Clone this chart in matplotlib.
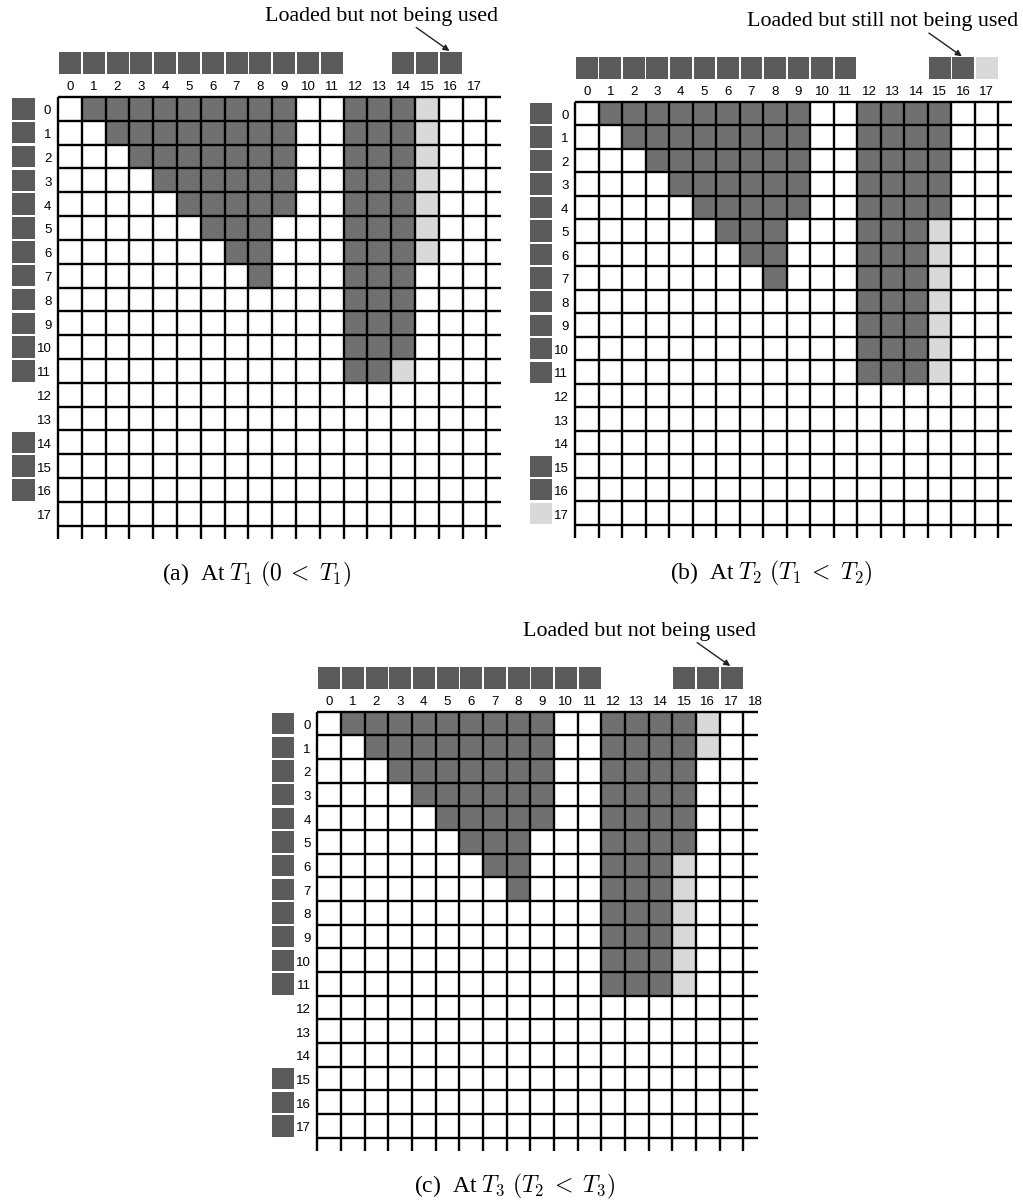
import matplotlib
matplotlib.use('Agg')
import matplotlib.pyplot as plt
from matplotlib.patches import Rectangle

plt.rcParams['mathtext.fontset'] = 'cm'

# '#' = in use (dark), '+' = loaded but idle (light), '.' = empty
grid_a = [
    ".#########..###+..",
    "..########..###+..",
    "...#######..###+..",
    "....######..###+..",
    ".....#####..###+..",
    "......###...###+..",
    ".......##...###+..",
    "........#...###...",
    "............###...",
    "............###...",
    "............###...",
    "............##+...",
    "..................",
    "..................",
    "..................",
    "..................",
    "..................",
    "..................",
]
grid_b = [
    ".#########..####..",
    "..########..####..",
    "...#######..####..",
    "....######..####..",
    ".....#####..####..",
    "......###...###+..",
    ".......##...###+..",
    "........#...###+..",
    "............###+..",
    "............###+..",
    "............###+..",
    "............###+..",
    "..................",
    "..................",
    "..................",
    "..................",
    "..................",
    "..................",
]
grid_c = [
    ".#########..####+.",
    "..########..####+.",
    "...#######..####..",
    "....######..####..",
    ".....#####..####..",
    "......###...####..",
    ".......##...###+..",
    "........#...###+..",
    "............###+..",
    "............###+..",
    "............###+..",
    "............###+..",
    "..................",
    "..................",
    "..................",
    "..................",
    "..................",
    "..................",
]

# tiles loaded along the top (columns) and the left (rows)
top_a = "############..###."
top_b = "############...##+"
top_c = "############...###"
left_a = "############..###."
left_b = "############...##+"
left_c = "############...###"

col_labels_a = [str(i) for i in range(18)]
col_labels_b = [str(i) for i in range(18)]
col_labels_c = [str(i) for i in range(19)]
row_labels = [str(i) for i in range(18)]

notes = ["Loaded but not being used", "Loaded but still not being used",
         "Loaded but not being used"]
note_targets = [16, 16, 17]
captions = [r"(a)  At $T_1\ (0\;<\;T_1)$", r"(b)  At $T_2\ (T_1\;<\;T_2)$",
            r"(c)  At $T_3\ (T_2\;<\;T_3)$"]

CELL = {'#': '#707070', '+': '#d9d9d9'}
TILE = {'#': '#5a5a5a', '+': '#d9d9d9'}

W, H = 1023, 1202
fig = plt.figure(figsize=(W / 100, H / 100), dpi=100)


def draw_panel(box, grid, top, left, col_labels, note, note_x, target, caption):
    l, t, w, h = box
    ax = fig.add_axes([l / W, 1 - (t + h) / H, w / W, h / H])
    n = len(grid)
    ax.set_xlim(0, n)
    ax.set_ylim(n, 0)
    ax.axis('off')

    for r, row in enumerate(grid):
        for c, ch in enumerate(row):
            if ch in CELL:
                ax.add_patch(Rectangle((c, r), 1, 1, fc=CELL[ch], ec='none'))

    ax.vlines(range(n + 1), 0, n + 0.55, color='black', lw=1.7, clip_on=False)
    ax.hlines(range(n + 1), 0, n + 0.6, color='black', lw=1.7, clip_on=False)

    for c, ch in enumerate(top):
        if ch in TILE:
            ax.add_patch(Rectangle((c + 0.04, -1.89), 0.93, 0.94, fc=TILE[ch],
                                   ec='none', clip_on=False))
    for r, ch in enumerate(left):
        if ch in TILE:
            ax.add_patch(Rectangle((-1.93, r + 0.05), 0.96, 0.9, fc=TILE[ch],
                                   ec='none', clip_on=False))

    for c, lab in enumerate(col_labels):
        ax.text(c + 0.5, -0.42, lab, ha='center', va='center', fontsize=9.5,
                family='Liberation Sans', clip_on=False)
    for r, lab in enumerate(row_labels):
        ax.text(-0.28, r + 0.6, lab, ha='right', va='center', fontsize=9.5,
                family='Liberation Sans', clip_on=False)

    ax.text(note_x, -3.4, note, ha='center', va='center', fontsize=15.8,
            family='Liberation Serif')
    ax.annotate('', xy=(target + 0.45, -1.93), xytext=(target - 0.95, -2.92),
                arrowprops=dict(arrowstyle='-|>', lw=1.0, color='#222222',
                                mutation_scale=9, shrinkA=0, shrinkB=0),
                annotation_clip=False)

    ax.text(8.35, 20.05, caption, ha='center', va='center', fontsize=17,
            family='Liberation Serif')


draw_panel((58, 97, 428.4, 428.7), grid_a, top_a, left_a, col_labels_a,
           notes[0], 13.6, note_targets[0], captions[0])
draw_panel((575, 101.7, 423.3, 423.3), grid_b, top_b, left_b, col_labels_b,
           notes[1], 13.06, note_targets[1], captions[1])
draw_panel((317.3, 711.7, 426, 426), grid_c, top_c, left_c, col_labels_c,
           notes[2], 13.63, note_targets[2], captions[2])

fig.savefig('out.png', dpi=100)
